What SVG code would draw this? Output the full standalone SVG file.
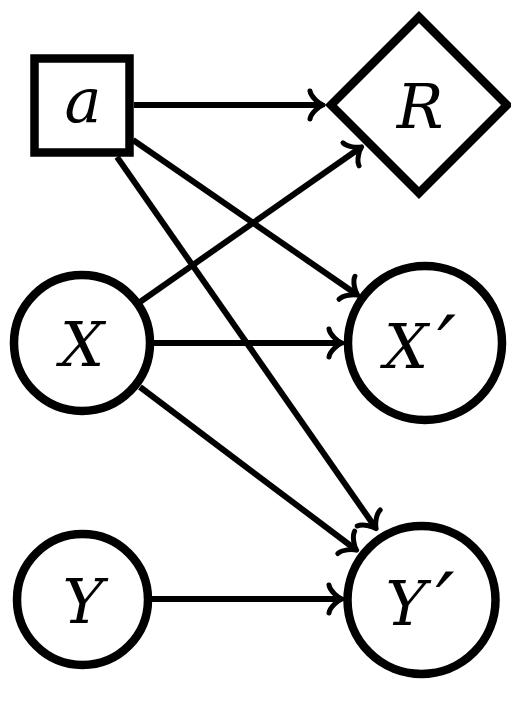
<svg xmlns="http://www.w3.org/2000/svg" width="511" height="703" viewBox="0 0 511 703">
<style>
.node{fill:#fff;stroke:#000;stroke-width:8.5}
.lbl{font-family:"DejaVu Serif",serif;font-style:italic;font-size:62px;fill:#000;text-anchor:middle}
.pr{font-size:84px}
.edge{fill:none;stroke:#000;stroke-width:6;marker-end:url(#to)}
</style>
<defs>
<marker id="to" markerUnits="userSpaceOnUse" orient="auto" overflow="visible" markerWidth="1" markerHeight="1" refX="0" refY="0">
<path d="M -11 -14 C -10 -8 -2 -1.5 2 0 C -2 1.5 -10 8 -11 14" fill="none" stroke="#000" stroke-width="5" stroke-linecap="round" stroke-linejoin="round"/>
</marker>
</defs>
<g id="edges">
<line class="edge" x1="134" y1="105" x2="321" y2="105"/>
<line class="edge" x1="133" y1="140" x2="356" y2="294"/>
<line class="edge" x1="117" y1="157" x2="375" y2="527"/>
<line class="edge" x1="140" y1="302" x2="360" y2="148"/>
<line class="edge" x1="154" y1="343" x2="340" y2="343"/>
<line class="edge" x1="140" y1="387" x2="355" y2="549"/>
<line class="edge" x1="152" y1="599" x2="340" y2="599"/>
</g>
<g id="a"><rect class="node" x="34.5" y="58.5" width="95" height="94"/><text class="lbl" x="83" y="122">a</text></g>
<g id="R"><polygon class="node" points="419,17 507,105 419,193 331,105"/><text class="lbl" x="420" y="128">R</text></g>
<g id="X"><circle class="node" cx="82" cy="343" r="68"/><text class="lbl" x="82" y="366">X</text></g>
<g id="Xp"><circle class="node" cx="425" cy="343" r="77"/><text class="lbl" x="420" y="368">X<tspan class="pr" dx="9" dy="8">′</tspan></text></g>
<g id="Y"><circle class="node" cx="82.5" cy="599.5" r="65.5"/><text class="lbl" x="83" y="623">Y</text></g>
<g id="Yp"><circle class="node" cx="421.5" cy="600" r="74"/><text class="lbl" x="420" y="625">Y<tspan class="pr" dx="9" dy="8">′</tspan></text></g>
</svg>
